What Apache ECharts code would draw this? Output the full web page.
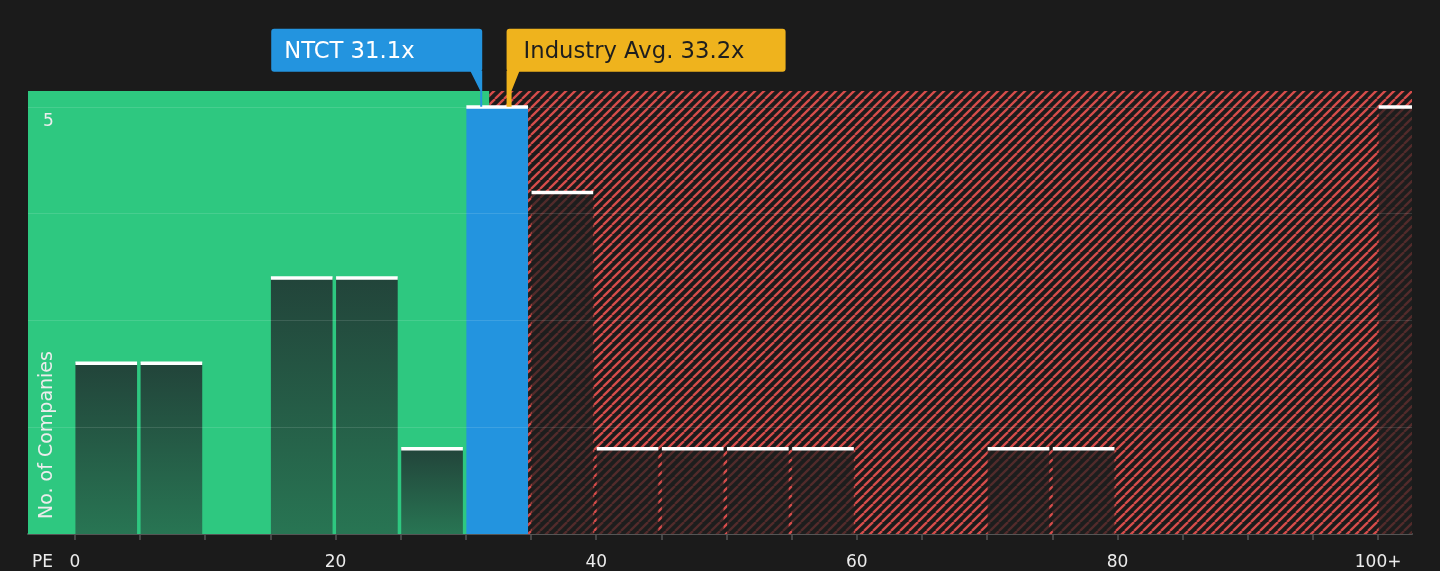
<!DOCTYPE html>
<html>
<head>
<meta charset="utf-8">
<script src="https://cdn.jsdelivr.net/npm/echarts@6/dist/echarts.min.js"></script>
<style>
  html, body { margin: 0; padding: 0; background: #1b1b1b; }
  #chart { width: 1440px; height: 571px; }
</style>
</head>
<body>
<div id="chart"></div>
<script>
// ---- data ----
const binStarts = [0, 5, 10, 15, 20, 25, 30, 35, 40, 45, 50, 55, 60, 65, 70, 75, 80, 85, 90, 95, 100];
const binSize = 5;
const counts    = [2, 2, 0, 3, 3, 1, 5, 4, 1, 1, 1, 1, 0, 0, 1, 1, 0, 0, 0, 0, 5];
const companyName = 'NTCT';
const companyPE = 31.1;
const industryPE = 33.2;
const fairThreshold = 31.8;
const xTickValues = [0, 20, 40, 60, 80, 100];
const xTickLabels = ['0', '20', '40', '60', '80', '100+'];
const yGridValues = [1.25, 2.5, 3.75, 5];
const yLabelValues = [5];
const yLabelTexts = ['5'];
const xMin = -3.6, xMax = 102.6, yMax = 5.185;

// ---- styles ----
const FONT = 'DejaVu Sans';
const BG = '#1b1b1b';
const GREEN = '#2ec880';
const BLUE = '#2394df';
const YELLOW = '#efb31d';
const TEXT = '#ececec';

// hatch pattern
const tile = 9;
const pc = document.createElement('canvas');
pc.width = tile; pc.height = tile;
const ctx = pc.getContext('2d');
ctx.fillStyle = BG;
ctx.fillRect(0, 0, tile, tile);
ctx.strokeStyle = '#d64d4b';
ctx.lineWidth = 2.3;
for (const k of [-tile, 0, tile]) {
  ctx.beginPath();
  ctx.moveTo(k, tile);
  ctx.lineTo(k + tile, 0);
  ctx.stroke();
}

const barData = binStarts.map((s, i) => [s, s + binSize, counts[i]]);
const maxCount = Math.max(...counts);

const chart = echarts.init(document.getElementById('chart'));
chart.setOption({
  backgroundColor: BG,
  animation: false,
  grid: [
    { left: 28, right: 28, top: 91, bottom: 35 },
    { left: 74.915, right: 61.88, top: 91, bottom: 35 }
  ],
  xAxis: [
    {
      type: 'value', gridIndex: 0, min: xMin, max: xMax,
      axisLine: { show: true, lineStyle: { color: '#555555', width: 2 } },
      axisTick: { show: false }, axisLabel: { show: false }, splitLine: { show: false },
      name: 'PE', nameLocation: 'start', nameGap: -4,
      nameTextStyle: { align: 'left', verticalAlign: 'top', padding: [20, 0, 0, 0], color: TEXT, fontSize: 17, fontFamily: FONT }
    },
    {
      type: 'value', gridIndex: 1, min: 0, max: 100, interval: 5,
      axisLine: { show: false },
      axisTick: { show: true, length: 6, lineStyle: { color: '#555555', width: 1.5 } },
      axisLabel: {
        margin: 20, color: TEXT, fontSize: 17, fontFamily: FONT,
        formatter: v => { const i = xTickValues.indexOf(v); return i >= 0 ? xTickLabels[i] : ''; }
      },
      splitLine: { show: false }
    }
  ],
  yAxis: [
    {
      type: 'value', gridIndex: 0, min: 0, max: yMax, interval: 1.25,
      axisLine: { show: false }, axisTick: { show: false }, splitLine: { show: false },
      axisLabel: { show: false }
    },
    { type: 'value', gridIndex: 1, min: 0, max: 1, show: false }
  ],
  graphic: [{
    type: 'text', x: 47, y: 519, rotation: Math.PI / 2,
    style: { text: 'No. of Companies', fill: TEXT, fontSize: 19, fontFamily: FONT, align: 'left', verticalAlign: 'middle' },
    z: 100
  }],
  series: [
    {
      type: 'line', xAxisIndex: 0, yAxisIndex: 0, data: [], z: 1, silent: true,
      markArea: {
        silent: true,
        data: [
          [{ xAxis: xMin, itemStyle: { color: GREEN } }, { xAxis: fairThreshold }],
          [{ xAxis: fairThreshold, itemStyle: { color: { image: pc, repeat: 'repeat' } } }, { xAxis: xMax }]
        ]
      }
    },
    {
      type: 'custom', xAxisIndex: 0, yAxisIndex: 0, z: 2, clip: true, silent: true,
      data: barData,
      renderItem: (params, api) => {
        const s = api.value(0), e = api.value(1), v = api.value(2);
        if (!v) return null;
        const p0 = api.coord([s, v]);
        const p1 = api.coord([e, 0]);
        const x = p0[0] + 0.5, w = p1[0] - p0[0] - 3.5;
        const top = p0[1], h = p1[1] - p0[1];
        let fill;
        if (companyPE >= s && companyPE < e) fill = BLUE;
        else if (e <= companyPE) fill = { type: 'linear', x: 0, y: 0, x2: 0, y2: 1, colorStops: [{ offset: 0, color: '#22443a' }, { offset: 1, color: '#287553' }] };
        else fill = 'rgba(30,30,30,0.72)';
        return {
          type: 'group',
          children: [
            { type: 'rect', shape: { x: x, y: top, width: w, height: h }, style: { fill: fill } },
            { type: 'rect', shape: { x: x, y: top - 1.5, width: w, height: 3.5 }, style: { fill: '#ffffff' } }
          ]
        };
      }
    },
    {
      type: 'line', xAxisIndex: 0, yAxisIndex: 0, data: [], z: 3, silent: true,
      markLine: {
        silent: true, symbol: ['none', 'none'], label: { show: false },
        lineStyle: { color: 'rgba(255,255,255,0.12)', width: 1, type: 'solid' },
        data: yGridValues.map(v => ({ yAxis: v }))
      }
    },
    {
      type: 'custom', xAxisIndex: 0, yAxisIndex: 0, z: 4, clip: false, silent: true,
      data: yLabelValues.map((v, i) => [xMin, v, i]),
      renderItem: (params, api) => {
        const p = api.coord([api.value(0), api.value(1)]);
        return {
          type: 'text', x: p[0] + 15, y: p[1] + 15,
          style: { text: yLabelTexts[api.value(2)], fill: TEXT, fontSize: 17, fontFamily: FONT, align: 'left', verticalAlign: 'middle' }
        };
      }
    },
    {
      type: 'custom', xAxisIndex: 0, yAxisIndex: 0, z: 5, clip: false, silent: true,
      data: [[companyPE, maxCount, 0], [industryPE, maxCount, 1]],
      renderItem: (params, api) => {
        const p = api.coord([api.value(0), api.value(1)]);
        const tx = p[0], ty = p[1];
        const top = ty - 78, bottom = ty - 35, bh = bottom - top;
        if (api.value(2) === 0) {
          const bw = 211, left = tx + 2 - bw;
          return {
            type: 'group', children: [
              { type: 'rect', shape: { x: left, y: top, width: bw, height: bh, r: 3 }, style: { fill: BLUE } },
              { type: 'polygon', shape: { points: [[tx - 10, bottom - 1], [tx + 2, bottom - 1], [tx + 2, ty], [tx, ty], [tx, ty - 16]] }, style: { fill: BLUE } },
              { type: 'text', x: left + 13, y: top + bh / 2 + 2, style: { text: companyName + ' ' + companyPE.toFixed(1) + 'x', fill: '#ffffff', fontSize: 22.7, fontFamily: FONT, verticalAlign: 'middle', align: 'left' } }
            ]
          };
        } else {
          const bw = 279, left = tx - 1;
          return {
            type: 'group', children: [
              { type: 'rect', shape: { x: left, y: top, width: bw, height: bh, r: 3 }, style: { fill: YELLOW } },
              { type: 'polygon', shape: { points: [[tx - 1, bottom - 1], [tx + 12, bottom - 1], [tx + 4, ty - 16], [tx + 4, ty], [tx - 1, ty]] }, style: { fill: YELLOW } },
              { type: 'text', x: left + 17, y: top + bh / 2 + 2, style: { text: 'Industry Avg. ' + industryPE.toFixed(1) + 'x', fill: '#1e1e1e', fontSize: 22.7, fontFamily: FONT, verticalAlign: 'middle', align: 'left' } }
            ]
          };
        }
      }
    }
  ]
});
</script>
</body>
</html>
